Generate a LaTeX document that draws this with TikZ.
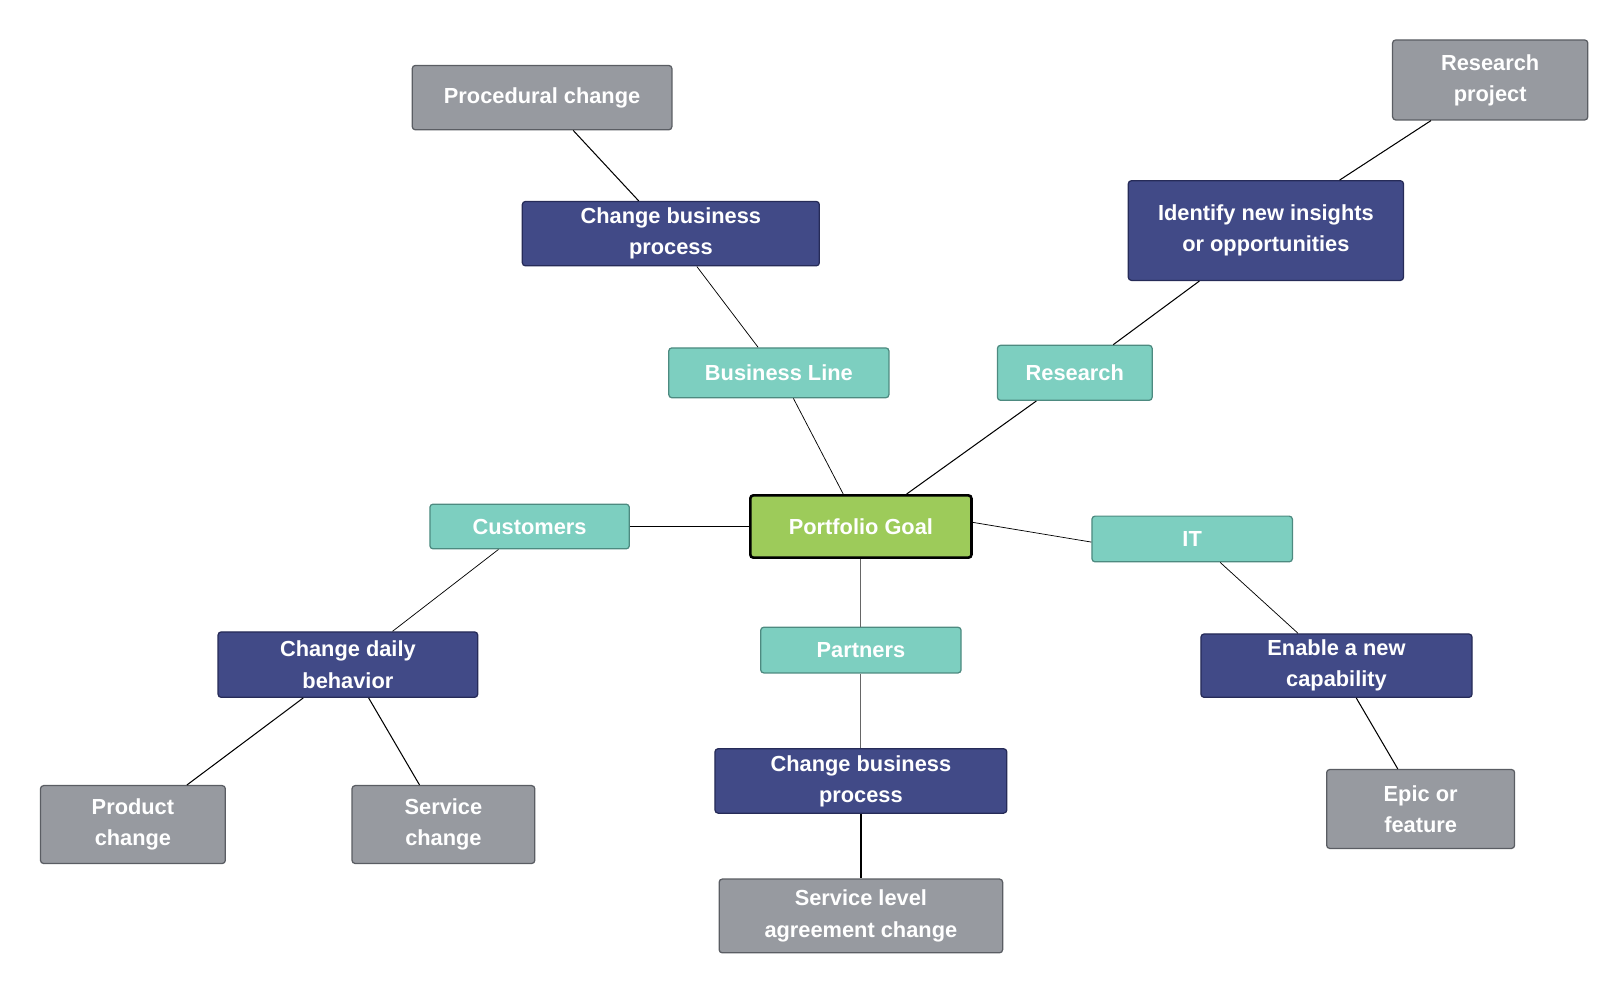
\documentclass[tikz,border=0pt]{standalone}
\usepackage{fontspec}
\setmainfont{Liberation Sans}
\definecolor{gfill}{HTML}{979AA0}\definecolor{gdraw}{HTML}{5A5D63}
\definecolor{nfill}{HTML}{414A87}\definecolor{ndraw}{HTML}{262B58}
\definecolor{tfill}{HTML}{7DCFC0}\definecolor{tdraw}{HTML}{4D8A80}
\definecolor{pfill}{HTML}{9DCB5A}
\begin{document}
\begin{tikzpicture}[x=1pt,y=-1pt,
 box/.style={rectangle,rounded corners=3pt,text=white,align=center,inner sep=0pt,
   font=\fontsize{21}{30}\selectfont\bfseries,line width=1.2pt},
 gray/.style={box,fill=gfill,draw=gdraw},
 navy/.style={box,fill=nfill,draw=ndraw},
 teal/.style={box,fill=tfill,draw=tdraw},
 ln/.style={line width=1pt,black},
 thin/.style={line width=0.8pt,black!60}]
\useasboundingbox (0,0) rectangle (1560,954);
\node[gray,minimum width=250,minimum height=62] (proc) at (522,94) {Procedural change};
\node[navy,minimum width=286,minimum height=62] (cbp) at (646,225) {Change business\\process};
\node[teal,minimum width=212,minimum height=48] (bl) at (750,359) {Business Line};
\node[teal,minimum width=149,minimum height=53] (res) at (1035,359) {Research};
\node[navy,minimum width=265,minimum height=96] (id) at (1219,222) {Identify new insights\\or opportunities};
\node[gray,minimum width=188,minimum height=77] (rp) at (1435,77) {Research\\project};
\node[box,fill=pfill,draw=black,line width=2.5pt,minimum width=213,minimum height=60] (pg) at (829,507) {Portfolio Goal};
\node[teal,minimum width=192,minimum height=43] (cu) at (510,507) {Customers};
\node[teal,minimum width=193,minimum height=44] (it) at (1148,519) {IT};
\node[teal,minimum width=193,minimum height=44] (pa) at (829,626) {Partners};
\node[navy,minimum width=250,minimum height=63] (cdb) at (335,640) {Change daily\\behavior};
\node[gray,minimum width=178,minimum height=75] (prod) at (128,794) {Product\\change};
\node[gray,minimum width=176,minimum height=75] (svc) at (427,794) {Service\\change};
\node[navy,minimum width=281,minimum height=62] (cbp2) at (829,752) {Change business\\process};
\node[gray,minimum width=273,minimum height=71] (sla) at (829,882) {Service level\\agreement change};
\node[navy,minimum width=261,minimum height=61] (en) at (1287,641) {Enable a new\\capability};
\node[gray,minimum width=181,minimum height=76] (ep) at (1368,779) {Epic or\\feature};
\begin{scope}[on background layer/.style={}]
\end{scope}
\draw[ln] ([xshift=30]proc.south) -- ([xshift=-31]cbp.north);
\draw[ln,line width=0.7pt] ([xshift=25]cbp.south) -- ([xshift=-20]bl.north);
\draw[ln,line width=0.7pt] ([xshift=14]bl.south) -- ([xshift=-17]pg.north);
\draw[ln] ([xshift=44]pg.north) -- ([xshift=-37]res.south);
\draw[ln] ([xshift=37]res.north) -- ([xshift=-64]id.south);
\draw[ln] ([xshift=71]id.north) -- ([xshift=-57]rp.south);
\draw[ln,line width=0.7pt] (cu.east) -- (pg.west);
\draw[ln,line width=0.7pt] ([yshift=4]pg.east) -- ([yshift=-3]it.west);
\draw[thin] (pg.south) -- (pa.north);
\draw[thin] (pa.south) -- (cbp2.north);
\draw[ln,line width=1.3pt] (cbp2.south) -- (sla.north);
\draw[ln,line width=0.7pt] ([xshift=-30]cu.south) -- ([xshift=43]cdb.north);
\draw[ln] ([xshift=-43]cdb.south) -- ([xshift=52]prod.north);
\draw[ln] ([xshift=20]cdb.south) -- ([xshift=-23]svc.north);
\draw[ln,line width=0.7pt] ([xshift=27]it.south) -- ([xshift=-37]en.north);
\draw[ln] ([xshift=19]en.south) -- ([xshift=-22]ep.north);
\end{tikzpicture}
\end{document}
